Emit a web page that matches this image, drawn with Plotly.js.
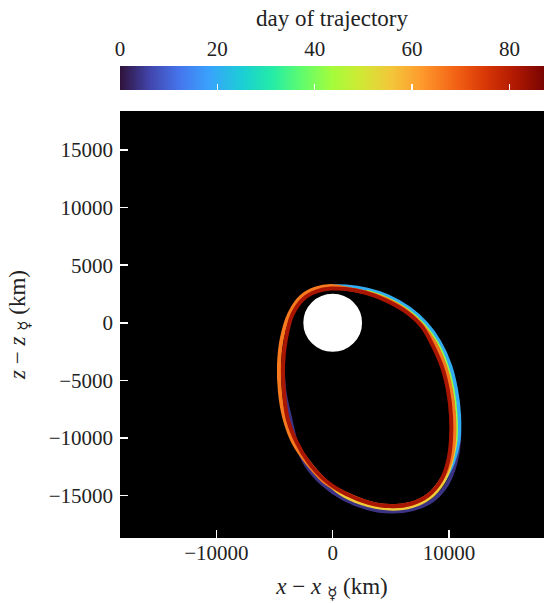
<!DOCTYPE html>
<html><head><meta charset="utf-8">
<script src="https://cdn.plot.ly/plotly-3.0.1.min.js"></script>
<style>html,body{margin:0;padding:0;background:#fff}</style>
</head><body>
<div id="chart" style="width:544px;height:603px"></div>
<script>
// ---- data (km, Mercury-centred) ----
const DAY_MAX = 87.1;
const MERCURY_RADIUS_KM = 2440;
const DAY_TICKS = [0, 20, 40, 60, 80];

// early days (purple)
const orbitDay04X = [9867, 10430, 10778, 10863, 10548, 9820, 8580, 6892, 4922, 2966, 936, -835, -2299, -3156, -3680, -4145, -4316];
const orbitDay04Z = [-3721, -5817, -8005, -10222, -12212, -14043, -15421, -16179, -16406, -16093, -15289, -14037, -12319, -10367, -8212, -5998, -3681];
// blue
const orbitDay20X = [-1405, -150, 1154, 2982, 4743, 6578, 8017, 9151, 10072, 10600, 10864, 10820, 10340, 9486];
const orbitDay20Z = [2761, 3145, 3145, 2881, 2303, 1244, -60, -1621, -3652, -5785, -8000, -10219, -12153, -13843];
// green
const orbitDay42X = [2956, 4681, 6491, 7885, 8999, 9867, 10388, 10648, 10647, 10257];
const orbitDay42Z = [2780, 2170, 1125, -172, -1703, -3721, -5824, -8013, -10204, -12129];
// yellow
const orbitDay55X = [10518, 10174, 9486, 8368, 6820, 4928, 3036, 1058, -604, -2054, -3234, -4013];
const orbitDay55Z = [-10193, -12105, -13843, -15147, -15929, -16146, -15842, -15060, -13778, -12141, -10404, -8305];
// orange
const orbitDay66X = [1134, 2918, 4615, 6399, 7753, 8808, 9662, 10175, 10432, 10432, 10091, 9301, 8236, 6760, 4933, 3094, 1160, -662, -2159, -3352, -4138, -4532, -4619, -4358, -3704, -2730, -1482, -153, 1134];
const orbitDay66Z = [2973, 2629, 2028, 999, -284, -1805, -3791, -5864, -8026, -10186, -12081, -13732, -14976, -15721, -15930, -15634, -14870, -13843, -12217, -10458, -8340, -6042, -3670, -1297, 809, 2240, 2964, 3188, 2973];
// dark red (late days)
const orbitDay82X = [1130, 2907, 4579, 6349, 7687, 8579, 9416, 9920, 10172, 10173, 9924, 9301, 8236, 6760, 4933, 3094, 1160, -576, -2054, -3117, -3889, -4188, -4273, -4018, -3468, -2550, -1390, -135, 1130];
const orbitDay82Z = [2930, 2587, 1950, 929, -340, -1928, -3874, -5911, -8042, -10164, -12033, -13732, -14976, -15721, -15930, -15634, -14870, -13746, -12141, -10349, -8270, -6002, -3682, -1363, 703, 2052, 2720, 2972, 2930];

const LAYERS = [
  {day: 4,  x: orbitDay04X, z: orbitDay04Z, w: 4},
  {day: 20, x: orbitDay20X, z: orbitDay20Z, w: 4},
  {day: 42, x: orbitDay42X, z: orbitDay42Z, w: 2},
  {day: 55, x: orbitDay55X, z: orbitDay55Z, w: 4},
  {day: 66, x: orbitDay66X, z: orbitDay66Z, w: 4},
  {day: 82, x: orbitDay82X, z: orbitDay82Z, w: 4}
];

// ---- style ----
const TURBO = [[0,'#30123b'],[0.07,'#4145ab'],[0.14,'#4675ed'],[0.21,'#39a2fc'],[0.29,'#1bcfd4'],[0.36,'#24eca6'],[0.43,'#61fc6c'],[0.5,'#a4fc3b'],[0.57,'#d1e834'],[0.64,'#f3c63a'],[0.71,'#fe9b2d'],[0.79,'#f36315'],[0.86,'#d93806'],[0.93,'#b11901'],[1,'#7a0402']];
function hex2rgb(h){return [parseInt(h.slice(1,3),16),parseInt(h.slice(3,5),16),parseInt(h.slice(5,7),16)];}
function turbo(day){
  const t = Math.max(0, Math.min(1, day / DAY_MAX));
  for (let i = 1; i < TURBO.length; i++) {
    if (t <= TURBO[i][0]) {
      const a = TURBO[i-1], b = TURBO[i];
      const f = (t - a[0]) / (b[0] - a[0]);
      const ca = hex2rgb(a[1]), cb = hex2rgb(b[1]);
      return 'rgb(' + ca.map((v,k)=>Math.round(v + (cb[k]-v)*f)).join(',') + ')';
    }
  }
  return TURBO[TURBO.length-1][1];
}

const FONT = 'Liberation Serif, "DejaVu Serif", serif';
const traces = LAYERS.map(L => ({
  type: 'scatter', mode: 'lines', x: L.x, y: L.z,
  line: {color: turbo(L.day), width: L.w, shape: 'spline', smoothing: 1},
  hoverinfo: 'skip', showlegend: false
}));

// colour bar carrier
traces.push({
  type: 'scatter', mode: 'markers', x: [null], y: [null], showlegend: false, hoverinfo: 'skip',
  marker: {color: [0], cmin: 0, cmax: DAY_MAX, colorscale: TURBO, showscale: true,
    colorbar: {orientation: 'h', x: 0.5, xanchor: 'center', y: 0.9246, yanchor: 'bottom',
      len: 1, lenmode: 'fraction', thickness: 24, thicknessmode: 'pixels',
      xpad: 0, ypad: 0, outlinewidth: 0, showticklabels: false,
      tickmode: 'array', tickvals: DAY_TICKS, ticks: 'inside', ticklen: 6, tickwidth: 1.5, tickcolor: 'white'}}
});
// top axis carrying colour-bar labels
traces.push({type: 'scatter', mode: 'markers', x: [], y: [], xaxis: 'x2', yaxis: 'y', showlegend: false, hoverinfo: 'skip'});

const SUN = '<sub><span style="font-size:17px">☿</span></sub>';
const layout = {
  width: 544, height: 603,
  margin: {l: 120, r: 0, t: 60, b: 65},
  paper_bgcolor: 'white', plot_bgcolor: 'black',
  font: {family: FONT, size: 21, color: '#222'},
  showlegend: false,
  xaxis: {range: [-18290, 18170], tick0: 0, dtick: 10000, tickformat: 'd', ticks: 'inside', ticklen: 8, tickwidth: 1.5, tickcolor: 'white',
    showgrid: false, zeroline: false, showline: false,
    automargin: false, title: {text: '<i>x</i> − <i>x</i> ' + SUN + ' (km)', standoff: 14, font: {size: 23}}},
  yaxis: {domain: [0, 0.8933], range: [-18700, 18400], tick0: 0, dtick: 5000, tickformat: 'd', ticks: 'inside', ticklen: 8, tickwidth: 1.5, tickcolor: 'white',
    showgrid: false, zeroline: false, showline: false, ticklabelstandoff: 6,
    automargin: false, title: {text: '<i>z</i> − <i>z</i> ' + SUN + ' (km)', standoff: 16, font: {size: 23}}},
  xaxis2: {overlaying: 'x', side: 'top', anchor: 'free', position: 1, range: [0, DAY_MAX],
    tickmode: 'array', tickvals: DAY_TICKS, ticks: '', showgrid: false, zeroline: false, showline: false,
    automargin: false, title: {text: 'day of trajectory', standoff: 2, font: {size: 23}}},
  shapes: [{type: 'circle', xref: 'x', yref: 'y', x0: -MERCURY_RADIUS_KM, x1: MERCURY_RADIUS_KM,
    y0: -MERCURY_RADIUS_KM, y1: MERCURY_RADIUS_KM, fillcolor: 'white', line: {color: 'white', width: 2}}]
};

Plotly.newPlot('chart', traces, layout, {displayModeBar: false, staticPlot: true});
</script>
</body></html>
